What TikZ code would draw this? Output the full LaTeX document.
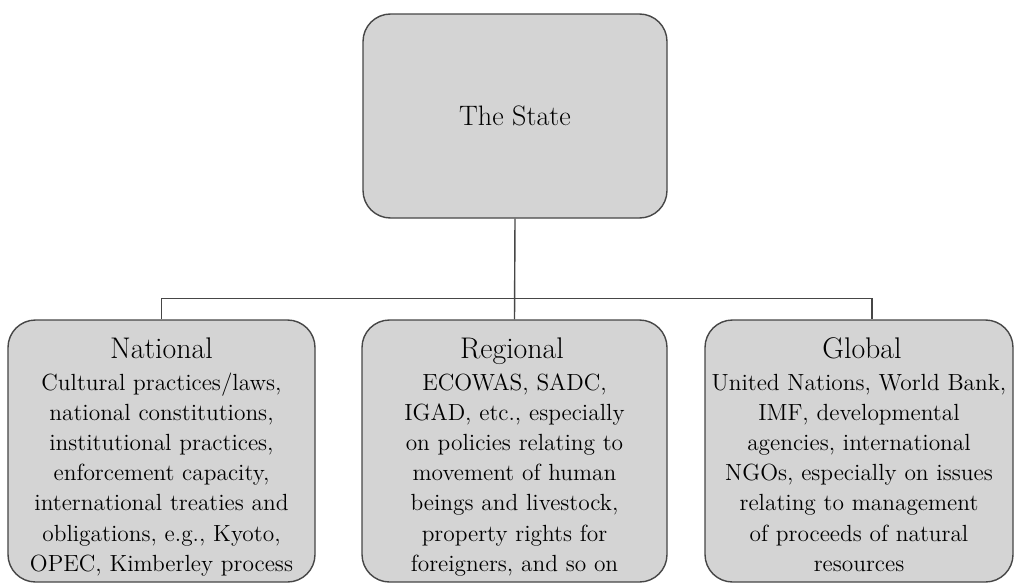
\documentclass[tikz,border=0pt]{standalone}
\usepackage{fontspec}
\usepackage{tikz}
\usetikzlibrary{shapes,positioning}
\definecolor{boxgray}{RGB}{212,212,212}
\definecolor{edgegray}{RGB}{70,70,70}
\tikzstyle{box} = [rectangle, rounded corners=0.55cm, draw=edgegray, line width=0.8pt, fill=boxgray]
\tikzstyle{line} = [draw=edgegray, line width=0.8pt]
\tikzstyle{head} = [anchor=base, inner sep=0pt, font=\fontsize{17}{20}\selectfont]
\tikzstyle{body} = [anchor=base, inner sep=0pt, text width=6cm, align=center, font=\fontsize{13.3}{17.2}\selectfont]

\begin{document}
\begin{tikzpicture}
    \useasboundingbox (0,0) rectangle (20.36,-11.66);

    \node (S) [box, minimum width=6.08cm, minimum height=4.08cm, xshift=10.30cm, yshift=-2.32cm, font=\fontsize{16}{19}\selectfont] {The State};

    \node (N) [box, minimum width=6.14cm, minimum height=5.24cm, xshift=3.23cm, yshift=-9.02cm] {};
    \node (R) [box, minimum width=6.10cm, minimum height=5.24cm, xshift=10.29cm, yshift=-9.02cm] {};
    \node (G) [box, minimum width=6.16cm, minimum height=5.24cm, xshift=17.18cm, yshift=-9.02cm] {};

    \node (Nt) [head, xshift=3.23cm, yshift=-7.17cm] {National};
    \node (Rt) [head, xshift=10.24cm, yshift=-7.17cm] {Regional};
    \node (Gt) [head, xshift=17.24cm, yshift=-7.17cm] {Global};

    \node (Nb) [body, xshift=3.23cm, yshift=-7.80cm] {Cultural practices/laws,\\ national constitutions,\\ institutional practices,\\ enforcement capacity,\\ international treaties and\\ obligations, e.g., Kyoto,\\ OPEC, Kimberley process};
    \node (Rb) [body, xshift=10.29cm, yshift=-7.80cm] {ECOWAS, SADC,\\ IGAD, etc., especially\\ on policies relating to\\ movement of human\\ beings and livestock,\\ property rights for\\ foreigners, and so on};
    \node (Gb) [body, xshift=17.18cm, yshift=-7.80cm] {United Nations, World Bank,\\ IMF, developmental\\ agencies, international\\ NGOs, especially on issues\\ relating to management\\ of proceeds of natural\\ resources};

    % connectors
    \coordinate (Gin) at ([xshift=0.26cm]G.north);
    \draw [line] (S.south) -- (R.north);
    \draw [line] (N.north) |- ([yshift=0.42cm]Gin) -- (Gin);

\end{tikzpicture}
\end{document}
